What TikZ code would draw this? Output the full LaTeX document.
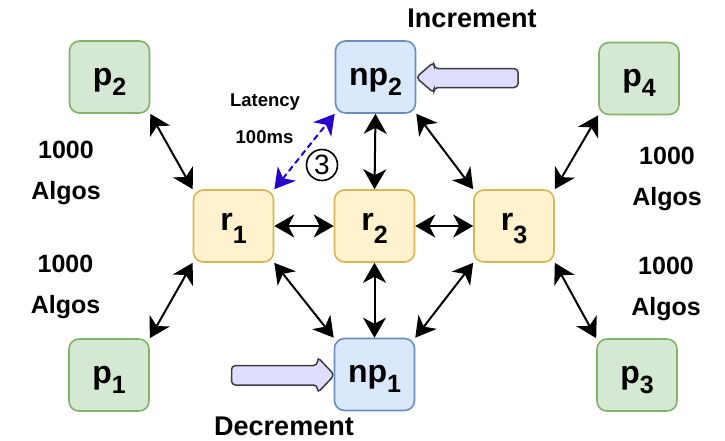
\documentclass[tikz,border=0pt]{standalone}
\usepackage{fontspec}
\setmainfont{Liberation Sans}
\usetikzlibrary{arrows.meta}

\definecolor{pfill}{HTML}{D5E8D4}
\definecolor{pline}{HTML}{82B366}
\definecolor{rfill}{HTML}{FFF2CC}
\definecolor{rline}{HTML}{D6B656}
\definecolor{nfill}{HTML}{DAE8FC}
\definecolor{nline}{HTML}{6C8EBF}
\definecolor{bafill}{RGB}{222,222,255}
\definecolor{baline}{RGB}{60,60,64}
\definecolor{latblue}{RGB}{40,0,204}

% label with a subscript digit, lowered by #3
\newcommand\sublbl[3]{#1\raisebox{-#3}{\fontsize{25}{25}\selectfont #2}}

\tikzset{
  nodebox/.style={rectangle, rounded corners=10pt, minimum width=80pt,
    minimum height=72pt, inner sep=0pt, line width=1.6pt,
    font=\fontsize{32}{32}\selectfont\bfseries, text height=24pt, text depth=8pt},
  pbox/.style={nodebox, fill=pfill, draw=pline},
  nbox/.style={nodebox, fill=nfill, draw=nline},
  rbox/.style={nodebox, fill=rfill, draw=rline, text height=20pt, text depth=12pt},
  tip/.tip={Stealth[length=20pt,width=23pt,inset=6pt]},
  conn/.style={line width=2pt, tip-tip},
  latency/.style={conn, draw=latblue, fill=latblue, dash pattern=on 6pt off 4pt},
  blockarrow/.style={fill=bafill, draw=baline, line width=1.5pt, rounded corners=4pt},
  biglbl/.style={font=\fontsize{27}{27}\selectfont\bfseries, anchor=base},
  smalllbl/.style={font=\fontsize{18.5}{18.5}\selectfont\bfseries, anchor=base},
  algolbl/.style={font=\fontsize{25}{40.5}\selectfont\bfseries, align=center, inner sep=0pt},
}

\begin{document}
\begin{tikzpicture}[x=1pt, y=-1pt]
\useasboundingbox[fill=white] (0,0) rectangle (725,440);

% block arrows pointing into the two np nodes (placed first, under the boxes)
\coordinate (incTip) at (416,77.5);
\coordinate (decTip) at (334.5,375);
\draw[blockarrow, shift={(incTip)}]
  (0,0) -- (18,-15.5) -- (18,-9) -- (102,-9) -- (102,10) -- (18,10) -- (18,15.5) -- cycle;
\draw[blockarrow, shift={(decTip)}]
  (0,0) -- (-17,-18) -- (-17,-9.5) -- (-103,-9.5) -- (-103,10) -- (-17,10) -- (-17,18) -- cycle;

% nodes
\node[pbox] (p2)  at (109.5,77)  {\sublbl{p}{2}{10pt}};
\node[nbox] (np2) at (375.5,77)  {\sublbl{np}{2}{10pt}};
\node[pbox] (p4)  at (639,78.5)  {\sublbl{p}{4}{10pt}};
\node[rbox] (r1)  at (233.5,226) {\sublbl{r}{1}{13pt}};
\node[rbox] (r2)  at (374.5,226) {\sublbl{r}{2}{13pt}};
\node[rbox] (r3)  at (514,226)   {\sublbl{r}{3}{13pt}};
\node[pbox] (p1)  at (109,375)   {\sublbl{p}{1}{10pt}};
\node[nbox] (np1) at (374.5,374.5) {\sublbl{np}{1}{10pt}};
\node[pbox] (p3)  at (637,375)   {\sublbl{p}{3}{10pt}};

% connectors
\draw[conn] (p2.south east) -- (r1.north west);
\draw[conn] (p1.north east) -- (r1.south west);
\draw[conn] (r1.east) -- (r2.west);
\draw[conn] (r2.east) -- (r3.west);
\draw[conn] (np2.south) -- (r2.north);
\draw[conn] (np2.south east) -- (r3.north west);
\draw[conn] (r1.south east) -- (np1.north west);
\draw[conn] (r2.south) -- (np1.north);
\draw[conn] (r3.south west) -- (np1.north east);
\draw[conn] (r3.north east) -- (p4.south west);
\draw[conn] (r3.south east) -- (p3.north west);
\draw[latency] (r1.north east) -- (np2.south west);

% labels
\node[biglbl] (inc) at (472,27) {Increment};
\node[biglbl] (dec) at (284,435) {Decrement};
\node[smalllbl] (latA) at (265,106) {Latency};
\node[smalllbl] (latB) at (264.5,143) {100ms};
\node[circle, draw, line width=1.6pt, minimum size=31pt, inner sep=0pt,
      font=\fontsize{28}{28}\selectfont] (step3) at (322,165) {3};

\node[algolbl] (algL1) at (66,173) {1000\\Algos};
\node[algolbl] (algL2) at (65.5,287) {1000\\Algos};
\node[algolbl] (algR1) at (667,179) {1000\\Algos};
\node[algolbl] (algR2) at (666,289) {1000\\Algos};
\end{tikzpicture}
\end{document}
